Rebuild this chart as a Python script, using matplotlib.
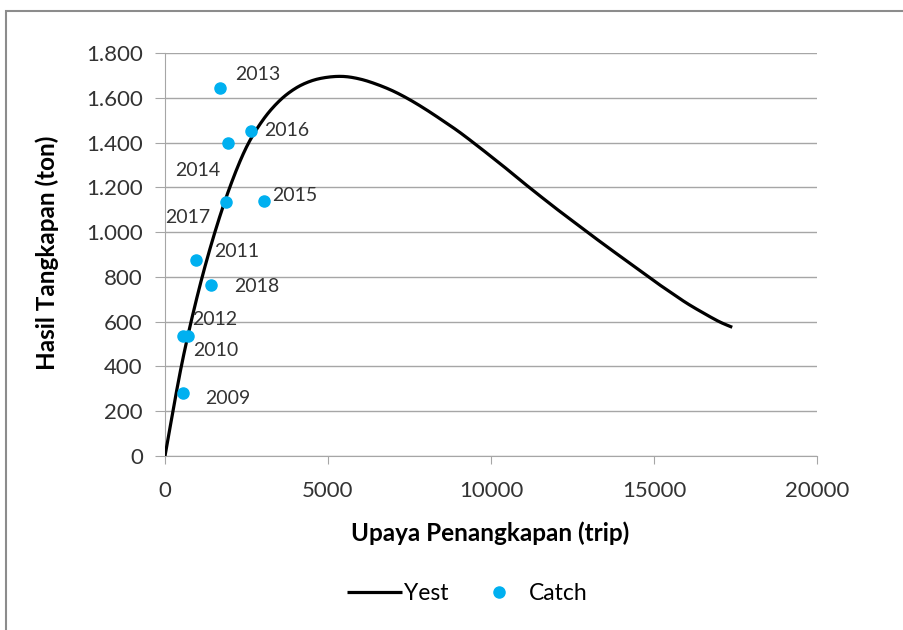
import matplotlib
matplotlib.use('Agg')
import numpy as np
import matplotlib.pyplot as plt
from matplotlib.patches import Rectangle
from matplotlib.ticker import FuncFormatter

plt.rcParams['font.family'] = ['Lato', 'DejaVu Sans']

# data
tahun = ['2009', '2010', '2011', '2012', '2013', '2014', '2015', '2016', '2017', '2018']
upaya = [552, 706, 951, 552, 1687, 1933, 3037, 2638, 1871, 1411]
catch = [281, 536, 875, 538, 1644, 1398, 1139, 1452, 1134, 764]

# kurva Yest
upaya_est = [0, 500, 1000, 1500, 2000, 2500, 3000, 3500, 4000, 4500, 5000, 5500,
             6000, 6500, 7000, 7500, 8000, 8500, 9000, 9500, 10000, 10500, 11000,
             11500, 12000, 12500, 13000, 13500, 14000, 14500, 15000, 15500, 16000,
             16500, 17000, 17400]
yest = [0, 400, 720, 985, 1205, 1380, 1500, 1585, 1642, 1676, 1692, 1695,
        1683, 1660, 1630, 1592, 1548, 1500, 1450, 1395, 1338, 1280, 1220,
        1162, 1105, 1050, 995, 941, 888, 835, 782, 732, 683,
        640, 600, 575]

# posisi label (offset piksel)
label_off = {
    '2009': (22, -5), '2010': (5, -15), '2011': (18, 9), '2012': (9, 16),
    '2013': (15, 13), '2014': (-53, -27), '2015': (8, 5), '2016': (13, 0),
    '2017': (-61, -15), '2018': (23, -2),
}


def halus(x, y, n=20):
    # garis halus ala excel (catmull-rom), hanya untuk gambar
    p = np.column_stack([x, y]).astype(float)
    p = np.vstack([p[0], p, p[-1]])
    out = []
    t = np.linspace(0, 1, n, endpoint=False)[:, None]
    for i in range(1, len(p) - 2):
        p0, p1, p2, p3 = p[i-1], p[i], p[i+1], p[i+2]
        seg = 0.5 * ((2*p1) + (-p0 + p2)*t + (2*p0 - 5*p1 + 4*p2 - p3)*t**2
                     + (-p0 + 3*p1 - 3*p2 + p3)*t**3)
        out.append(seg)
    out.append(p[-2][None, :])
    out = np.vstack(out)
    return out[:, 0], out[:, 1]


fig = plt.figure(figsize=(9.04, 6.30), dpi=100)
ax = fig.add_axes([165/904, 1-456/630, (817-165)/904, (456-53)/630])

hx, hy = halus(upaya_est, yest)
ax.plot(hx, hy, color='black', lw=2.3, label='Yest', zorder=3,
        solid_capstyle='butt', solid_joinstyle='round')
ax.plot(upaya, catch, 'o', color='#00B0F0', ms=8, label='Catch', zorder=4)

for t, x, y in zip(tahun, upaya, catch):
    dx, dy = label_off[t]
    ax.annotate(t, (x, y), xytext=(dx, dy), textcoords='offset pixels',
                fontsize=14, color='#333333', va='center', ha='left')

ax.set_xlim(0, 20000)
ax.set_ylim(0, 1800)
ax.set_xticks(range(0, 20001, 5000))
ax.set_yticks(range(0, 1801, 200))
ax.yaxis.set_major_formatter(FuncFormatter(lambda v, p: f'{int(v):,}'.replace(',', '.')))
ax.grid(axis='y', color='#a6a6a6', lw=1)
ax.set_axisbelow(True)
for s in ['top', 'right']:
    ax.spines[s].set_visible(False)
ax.spines['left'].set_color('#a6a6a6')
ax.spines['bottom'].set_color('#a6a6a6')
ax.tick_params(axis='both', colors='#a6a6a6', labelcolor='#333333', labelsize=16)
ax.tick_params(axis='x', length=6, pad=12)
ax.tick_params(axis='y', length=7, pad=9)

fig.text(490/904, 1-533/630, 'Upaya Penangkapan (trip)', fontsize=17.5, fontweight='bold',
         ha='center', va='center', color='black')
fig.text(47/904, 1-253/630, 'Hasil Tangkapan (ton)', fontsize=17.5, fontweight='bold',
         ha='center', va='center', rotation=90, color='black')

leg = fig.legend(loc='center', bbox_to_anchor=(467/904, 1-594/630), ncol=2, frameon=False,
                 fontsize=16.5, handlelength=2.4, columnspacing=1.0, handletextpad=0.1)

# bingkai chart
fig.patches.append(Rectangle((6/904, -0.1), 1.2, 1-11/630+0.1, transform=fig.transFigure,
                             fill=False, edgecolor='#8c8c8c', lw=1.5))

fig.savefig('out.png', dpi=100)
